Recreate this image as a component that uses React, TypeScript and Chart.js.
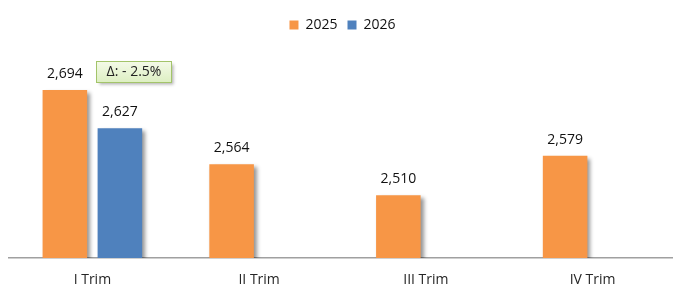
import { useEffect, useRef } from "react";
import { Chart, registerables } from "chart.js";

Chart.register(...registerables);

const categories = ["I Trim", "II Trim", "III Trim", "IV Trim"];
const seriesLabels = ["2025", "2026"];
const series2025 = [2694, 2564, 2510, 2579];
const series2026: (number | null)[] = [2627, null, null, null];
const seriesColors = ["#F79646", "#4F81BD"];
const yMin = 2400;
const yMax = 2778;

const FONT = "'Open Sans', sans-serif";

const barShadow = {
  id: "barShadow",
  beforeDatasetsDraw(chart: any) {
    const c = chart.ctx;
    c.save();
    c.shadowColor = "rgba(0,0,0,0.42)";
    c.shadowBlur = 4;
    c.shadowOffsetX = 3;
    c.shadowOffsetY = 3;
  },
  afterDatasetsDraw(chart: any) {
    chart.ctx.restore();
  },
};

const valueLabels = {
  id: "valueLabels",
  afterDatasetsDraw(chart: any) {
    const ctx = chart.ctx;
    ctx.save();
    ctx.font = `14px ${FONT}`;
    ctx.fillStyle = "#111111";
    ctx.textAlign = "center";
    ctx.textBaseline = "middle";
    chart.data.datasets.forEach((ds: any, i: number) => {
      const meta = chart.getDatasetMeta(i);
      meta.data.forEach((el: any, j: number) => {
        const v = ds.data[j];
        if (v == null) return;
        ctx.fillText(Number(v).toLocaleString("en-US"), el.x, el.y - 16);
      });
    });
    ctx.restore();
  },
};

const deltaBox = {
  id: "deltaBox",
  afterDraw(chart: any) {
    const ctx = chart.ctx;
    const e0 = chart.getDatasetMeta(0).data[0];
    const e1 = chart.getDatasetMeta(1).data[0];
    if (!e0 || !e1) return;
    const a = series2025[0];
    const b = series2026[0] as number;
    const pct = ((b - a) / a) * 100;
    const text = `Δ: ${pct < 0 ? "- " : "+ "}${Math.abs(pct).toFixed(1)}%`;
    ctx.save();
    ctx.font = `14px ${FONT}`;
    const tw = ctx.measureText(text).width;
    const w = Math.round(tw + 20);
    const h = 21;
    const left = Math.round(e1.x - e1.width / 2 - 2) + 0.5;
    const cy = e0.y - 19;
    const top = Math.round(cy - h / 2) + 0.5;
    ctx.shadowColor = "rgba(0,0,0,0.3)";
    ctx.shadowBlur = 3;
    ctx.shadowOffsetX = 2;
    ctx.shadowOffsetY = 2;
    const g = ctx.createLinearGradient(0, top, 0, top + h);
    g.addColorStop(0, "#F4FAE8");
    g.addColorStop(1, "#DDEFC2");
    ctx.fillStyle = g;
    ctx.fillRect(left, top, w, h);
    ctx.shadowColor = "transparent";
    ctx.strokeStyle = "#A3C46A";
    ctx.lineWidth = 1;
    ctx.strokeRect(left, top, w, h);
    ctx.fillStyle = "#222222";
    ctx.textAlign = "center";
    ctx.textBaseline = "middle";
    ctx.fillText(text, left + w / 2, top + h / 2 + 0.5);
    ctx.restore();
  },
};

export default function App() {
  const canvasRef = useRef<HTMLCanvasElement | null>(null);

  useEffect(() => {
    if (!canvasRef.current) return;
    const chart = new Chart(canvasRef.current, {
      type: "bar",
      data: {
        labels: categories,
        datasets: [
          {
            label: seriesLabels[0],
            data: series2025,
            backgroundColor: seriesColors[0],
            borderWidth: 0,
            barPercentage: 0.81,
            categoryPercentage: 0.66,
          },
          {
            label: seriesLabels[1],
            data: series2026,
            backgroundColor: seriesColors[1],
            borderWidth: 0,
            barPercentage: 0.81,
            categoryPercentage: 0.66,
          },
        ],
      },
      options: {
        responsive: false,
        animation: false,
        layout: { padding: { left: 9, right: 0, top: 8, bottom: 0 } },
        plugins: {
          legend: {
            display: true,
            position: "top",
            labels: {
              boxWidth: 9,
              boxHeight: 9,
              padding: 10,
              color: "#111111",
              font: { family: FONT, size: 14 },
            },
          },
          tooltip: { enabled: false },
        },
        scales: {
          x: {
            grid: { display: false, drawTicks: false },
            border: { display: true, color: "#A0A0A0", width: 1.5 },
            ticks: {
              color: "#262626",
              padding: 15,
              font: { family: FONT, size: 14, lineHeight: 1 },
            },
          },
          y: {
            display: false,
            min: yMin,
            max: yMax,
          },
        },
      },
      plugins: [barShadow, valueLabels, deltaBox],
    });
    return () => chart.destroy();
  }, []);

  return (
    <div
      style={{
        position: "fixed",
        left: 0,
        top: 0,
        width: 673,
        height: 286,
        overflow: "hidden",
        background: "#ffffff",
      }}
    >
      <canvas ref={canvasRef} width={676} height={302} style={{ display: "block" }} />
    </div>
  );
}
